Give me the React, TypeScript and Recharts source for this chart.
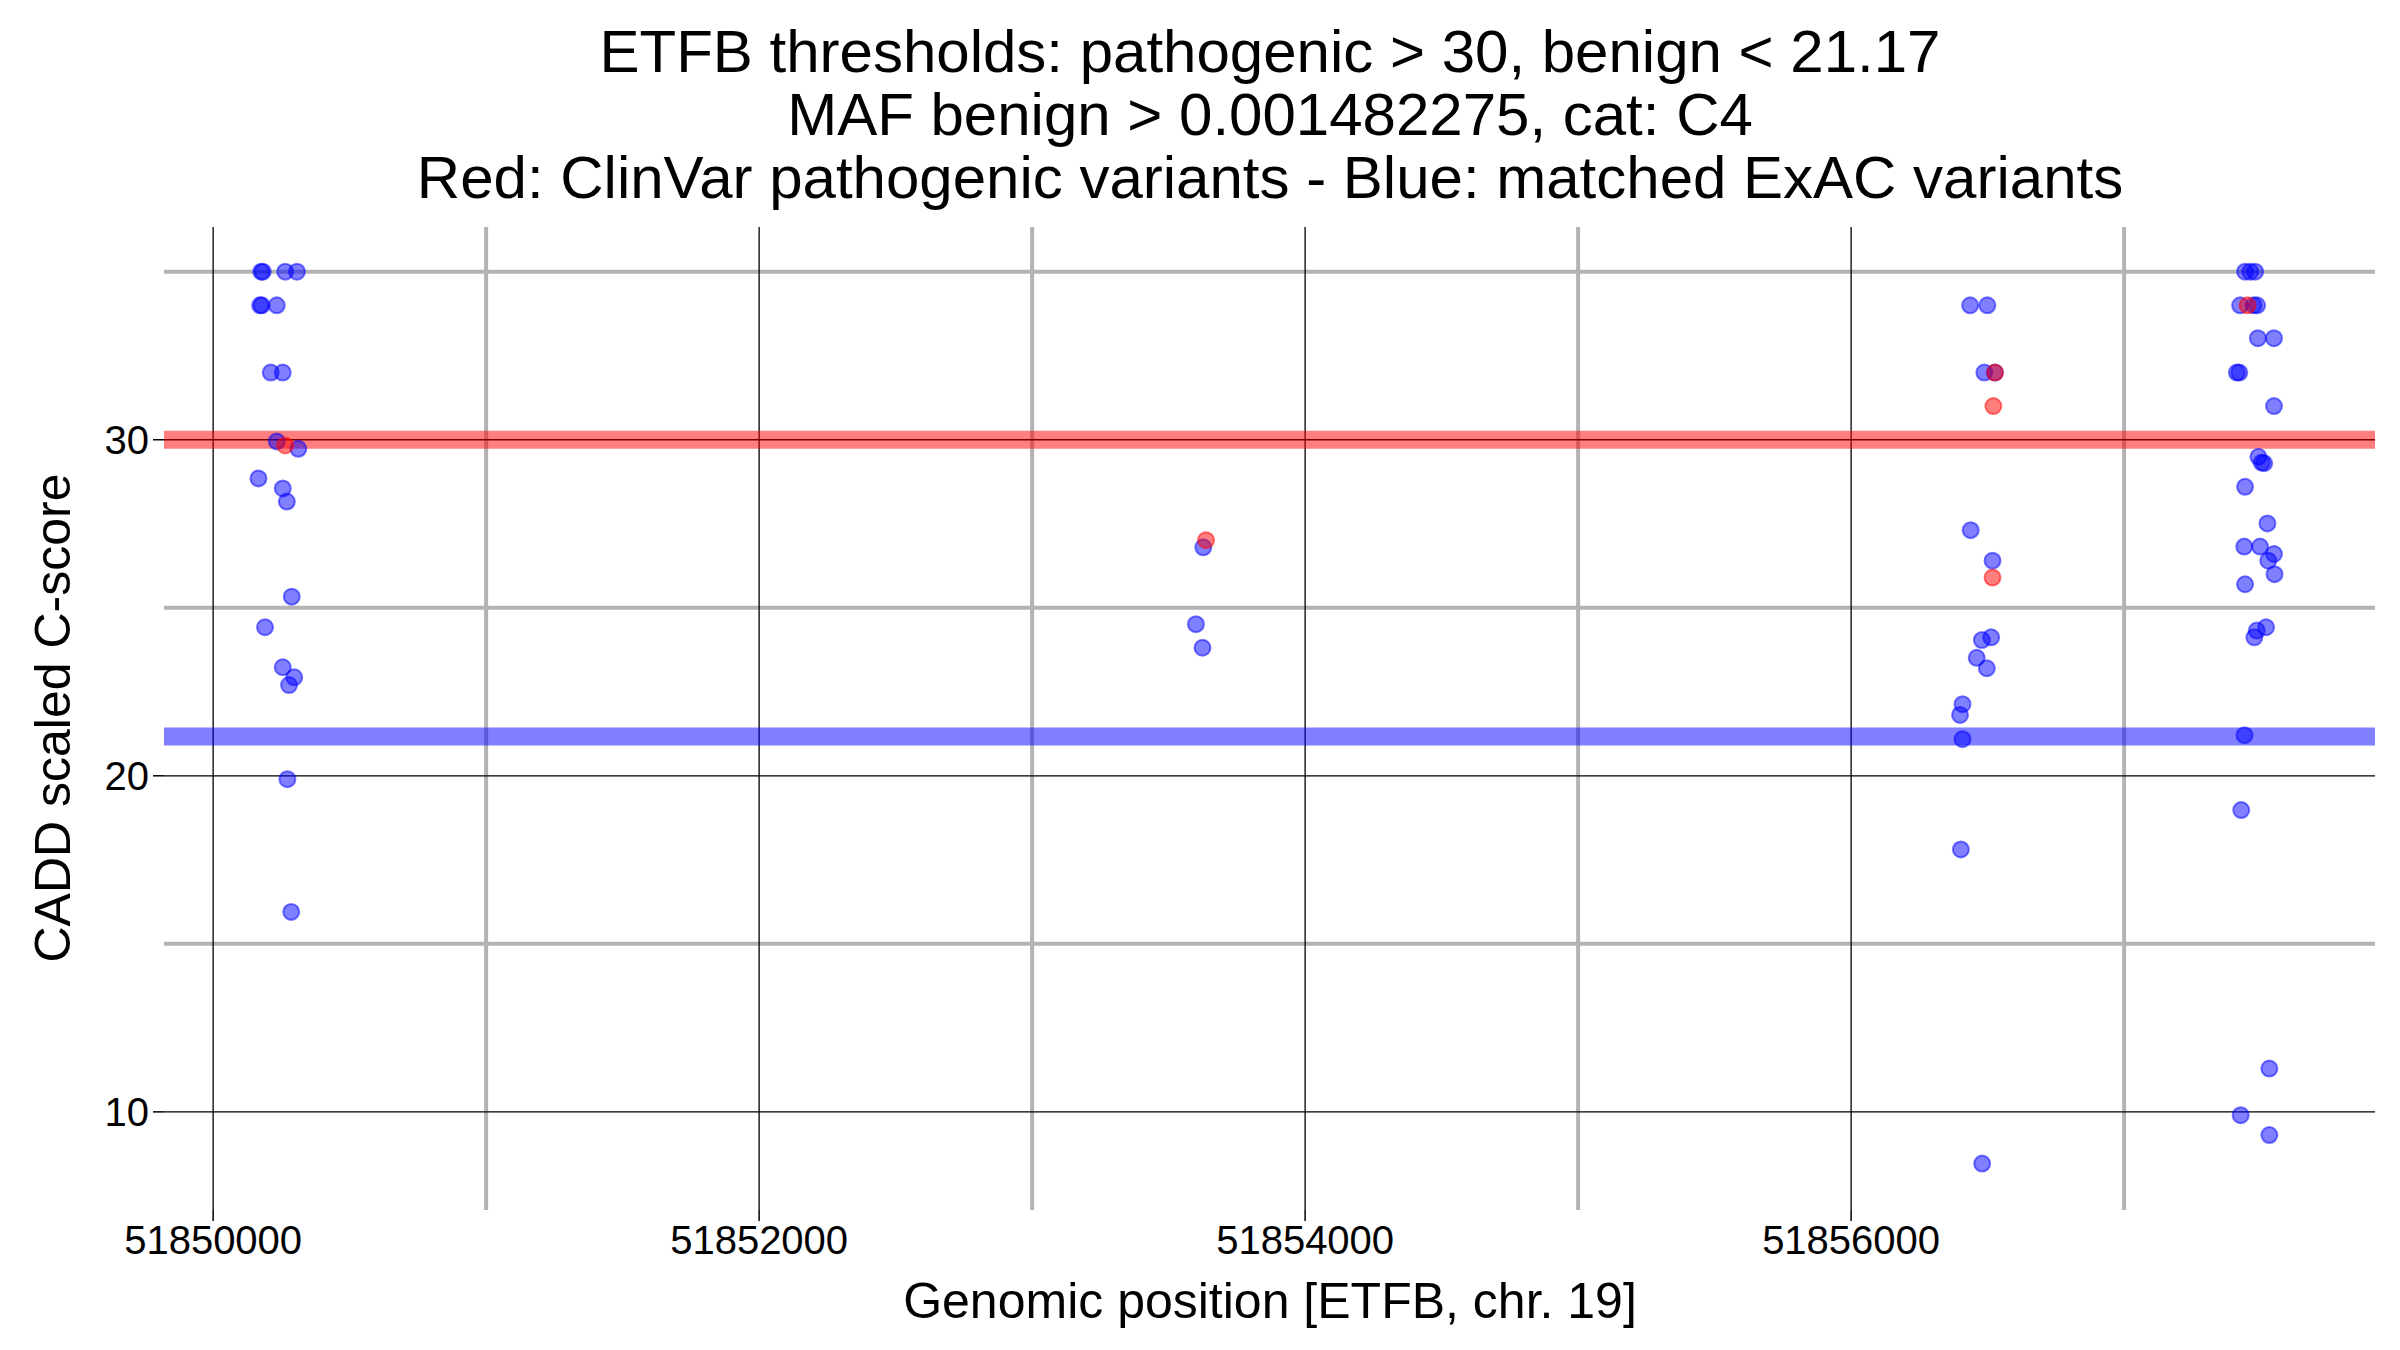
import React from 'react';
import { ScatterChart, Scatter, XAxis, YAxis, ReferenceLine } from 'recharts';

// ExAC matched variants (blue)
const benignPos = [
  51850182, 51850176, 51850264, 51850307, 51850178, 51850172, 51850233, 51850211, 51850255,
  51850233, 51850312, 51850166, 51850255, 51850270, 51850288, 51850190, 51850255, 51850297,
  51850278, 51850272, 51850286,
  51853627, 51853600, 51853624,
  51856436, 51856499, 51856488, 51856527, 51856438, 51856518, 51856479, 51856513, 51856460,
  51856497, 51856408, 51856399, 51856408, 51856402, 51856480,
  51857443, 51857462, 51857480, 51857425, 51857474, 51857487, 51857490, 51857549, 51857413,
  51857422, 51857549, 51857492, 51857504, 51857513, 51857443, 51857525, 51857440, 51857498,
  51857549, 51857528, 51857551, 51857443, 51857520, 51857486, 51857477, 51857441, 51857429,
  51857532, 51857427, 51857532,
];
const benignScore = [
  35, 35, 35, 35, 34, 34, 34, 32, 32,
  29.95, 29.73, 28.85, 28.55, 28.16, 25.33, 24.42, 23.23, 22.93,
  22.7, 19.9, 15.95,
  26.8, 24.51, 23.81,
  34, 34, 32, 32, 27.31, 26.4, 24.04, 24.12, 23.51,
  23.2, 22.13, 21.81, 21.09, 17.81, 8.46,
  35, 35, 35, 34, 34, 34, 33.02, 33.02, 32,
  32, 31, 29.49, 29.32, 29.3, 28.6, 27.51, 26.82, 26.82,
  26.6, 26.4, 26.0, 25.7, 24.42, 24.32, 24.12, 21.21, 18.98,
  11.29, 9.9, 9.31,
];

// ClinVar pathogenic variants (red)
const pathoPos = [51850264, 51853637, 51856527, 51856521, 51856518, 51857452];
const pathoScore = [29.83, 27.01, 32.0, 31.0, 25.9, 34.0];

const xTicks = [51850000, 51852000, 51854000, 51856000];
const xMinor = [51851000, 51853000, 51855000, 51857000];
const yTicks = [10, 20, 30];
const yMinor = [15, 25, 35];

const pathogenicThreshold = 30;
const benignThreshold = 21.17;

const titleLines = [
  'ETFB thresholds: pathogenic > 30, benign < 21.17',
  'MAF benign > 0.001482275, cat: C4',
  'Red: ClinVar pathogenic variants - Blue: matched ExAC variants',
];

const benign = benignPos.map((x, i) => ({ x, y: benignScore[i] }));
const patho = pathoPos.map((x, i) => ({ x, y: pathoScore[i] }));

const FONT = '"Liberation Sans", Arial, Helvetica, sans-serif';

const dot = (color: string) => (props: any) => (
  <circle
    cx={props.cx}
    cy={props.cy}
    r={8}
    fill={color}
    fillOpacity={0.5}
    stroke={color}
    strokeOpacity={0.5}
    strokeWidth={2}
  />
);

const XTick = ({ x, y, payload }: any) => (
  <text x={x} y={y + 31} textAnchor="middle" fontSize={40} fontFamily={FONT} fill="#000">
    {payload.value}
  </text>
);

const YTick = ({ x, y, payload }: any) => (
  <text x={x - 2} y={y + 14} textAnchor="end" fontSize={40} fontFamily={FONT} fill="#000">
    {payload.value}
  </text>
);

export default function App() {
  return (
    <div style={{ position: 'absolute', left: 0, top: 0, width: 2400, height: 1350, background: '#fff' }}>
      <ScatterChart width={2400} height={1350} margin={{ top: 227, right: 25, bottom: 0, left: 0 }}>
        <XAxis
          type="number"
          dataKey="x"
          domain={[51849820, 51857919]}
          ticks={xTicks}
          allowDataOverflow
          axisLine={false}
          tickLine={{ stroke: '#000', strokeWidth: 1.5 }}
          tickSize={11}
          height={140}
          tick={<XTick />}
        />
        <YAxis
          type="number"
          dataKey="y"
          domain={[7.08, 36.33]}
          ticks={yTicks}
          allowDataOverflow
          axisLine={false}
          tickLine={{ stroke: '#000', strokeWidth: 1.5 }}
          tickSize={11}
          width={164}
          tick={<YTick />}
        />
        {yMinor.map((v) => (
          <ReferenceLine key={'ym' + v} y={v} stroke="#b3b3b3" strokeWidth={4} />
        ))}
        {xMinor.map((v) => (
          <ReferenceLine key={'xm' + v} x={v} stroke="#b3b3b3" strokeWidth={4} />
        ))}
        {yTicks.map((v) => (
          <ReferenceLine key={'yM' + v} y={v} stroke="#000" strokeWidth={1.3} />
        ))}
        {xTicks.map((v) => (
          <ReferenceLine key={'xM' + v} x={v} stroke="#000" strokeWidth={1.3} />
        ))}
        <ReferenceLine y={pathogenicThreshold} stroke="#ff0000" strokeOpacity={0.5} strokeWidth={18} />
        <ReferenceLine y={benignThreshold} stroke="#0000ff" strokeOpacity={0.5} strokeWidth={18} />
        <Scatter data={benign} shape={dot('#0000ff')} isAnimationActive={false} />
        <Scatter data={patho} shape={dot('#ff0000')} isAnimationActive={false} />
      </ScatterChart>
      <svg
        width={2400}
        height={1350}
        style={{ position: 'absolute', left: 0, top: 0, pointerEvents: 'none' }}
      >
        {titleLines.map((t, i) => (
          <text key={i} x={1270} y={72 + i * 63} textAnchor="middle" fontSize={60} fontFamily={FONT} fill="#000">
            {t}
          </text>
        ))}
        <text x={1270} y={1318} textAnchor="middle" fontSize={50} fontFamily={FONT} fill="#000">
          Genomic position [ETFB, chr. 19]
        </text>
        <text
          x={70}
          y={718}
          textAnchor="middle"
          fontSize={50}
          fontFamily={FONT}
          fill="#000"
          transform="rotate(-90 70 718)"
        >
          CADD scaled C-score
        </text>
      </svg>
    </div>
  );
}
